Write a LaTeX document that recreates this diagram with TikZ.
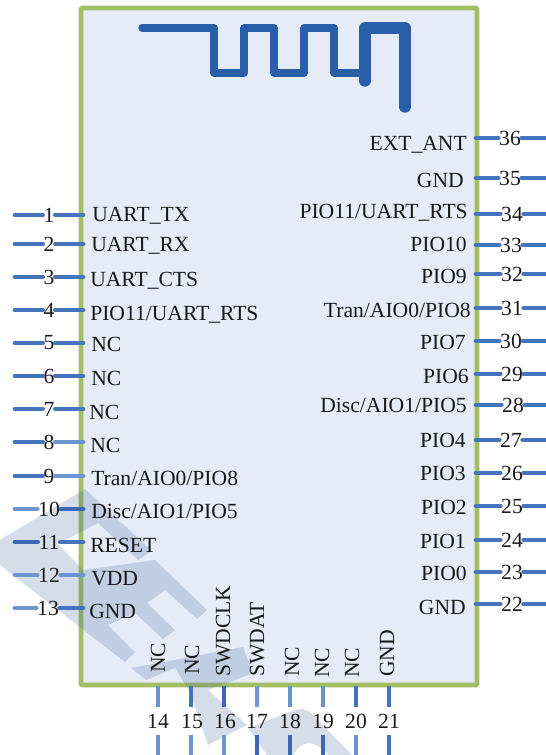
\documentclass[tikz,border=0pt]{standalone}
\usepackage{fontspec}
\setmainfont{Liberation Serif}
\definecolor{boardfill}{HTML}{E6ECF7}
\definecolor{boardedge}{HTML}{A2BE62}
\definecolor{antblue}{HTML}{285FA8}
\definecolor{pinblue}{HTML}{4674BC}
\definecolor{pinlight}{HTML}{6C95D0}
\definecolor{pindark}{HTML}{3A68B4}
\definecolor{wm}{HTML}{2F5590}
\tikzset{
  antenna/.style={draw=antblue,line cap=round,line join=round},
  pinline/.style={line width=3.6pt,line cap=round},
  pinnum/.style={inner sep=0.5pt,font=\fontsize{16.2pt}{17pt}\selectfont,text=black!90},
  pinlabel/.style={inner sep=0pt,font=\fontsize{16.2pt}{17pt}\selectfont,text=black!90},
  wmark/.style={fill=wm,fill opacity=0.2,draw=none}
}
\newcommand{\lpin}[7]{% number, y of pin, x of number, label, x of label, y of label centre, outer colour
  \coordinate (a#1) at (15,#2);
  \coordinate (b#1) at (83,#2);
  \node[pinnum] (n#1) at (#3,#2) {#1};
  \draw[pinline,draw=#7] (a#1) -- (n#1.west |- a#1);
  \draw[pinline,draw=\innercol] (n#1.east |- a#1) -- (b#1);
  \node[pinlabel,anchor=base west] (l#1) at (#5,#6+7) {#4};
}
\newcommand{\innercol}{pinblue}
\newcommand{\rpin}[6]{%
  \coordinate (a#1) at (476,#2);
  \coordinate (b#1) at (545,#2);
  \node[pinnum] (n#1) at (#3,#2) {#1};
  \draw[pinline,draw=pinblue] (a#1) -- (n#1.west |- a#1);
  \draw[pinline,draw=pinblue] (n#1.east |- a#1) -- (b#1);
  \node[pinlabel,anchor=base east] (l#1) at (#5,#6+7) {#4};
}
\newcommand{\bpin}[7]{% number, x of pin, x of number, label, x of label, y of label, lower colour
  \coordinate (a#1) at (#2,686);
  \coordinate (c#1) at (#2,707);
  \coordinate (d#1) at (#2,735);
  \coordinate (b#1) at (#2,755);
  \node[pinnum] (n#1) at (#3,721) {#1};
  \draw[pinline,line cap=butt,draw=\innercol] (a#1) -- (c#1);
  \draw[pinline,line cap=butt,draw=#7] (d#1) -- (b#1);
  \node[pinlabel,rotate=90,anchor=base west] (l#1) at (#5+7,#6) {#4};
}
\begin{document}
\begin{tikzpicture}[x=0.75pt,y=-0.75pt]
\useasboundingbox (0,0) rectangle (545,755);
\node[draw=boardedge,fill=boardfill,line width=3.6pt,rounded corners=1pt,outer sep=0pt,minimum width=396*0.75pt,minimum height=677*0.75pt,inner sep=0pt,anchor=north west] (board) at (81,8) {};
% watermark
\begin{scope}
\clip (0,0) rectangle (545,755);
\fill[wmark] (0,540) -- (85,489) -- (152,551) -- (138,560) -- (98,523) -- (58,544) -- (83,570) -- (155,560) -- (207,610) -- (197,619) -- (165,590) -- (147,603) -- (175,630) -- (163,639) -- (135,613) -- (108,625) -- (135,652) -- (125,662) -- (10,573) -- (0,565) -- cycle;
\fill[wmark] (131,668) -- (243,647) -- (253,673) -- (208,690) -- (247,725) -- (208,745) -- (190,692) -- (175,668) -- (146,680) -- cycle;
\fill[wmark] (248,728) -- (292,711) .. controls (300,708) and (306,708) .. (312,714) -- (352,755) -- (328,755) .. controls (318,742) and (305,740) .. (298,748) -- (293,755) -- (267,755) -- cycle;
\end{scope}
% antenna
\draw[antenna,line width=5.4pt] (142,28) -- (214,28) -- (214,73) -- (244,73) -- (244,28) -- (274,28) -- (274,73) -- (304,73) -- (304,28) -- (334,28) -- (334,73) -- (365,73);
\draw[antenna,line width=8.6pt] (365,81) -- (365,28) -- (405,28) -- (405,107);
% pins
\lpin{1}{215}{49}{UART\_TX}{92}{215}{pinblue}
\lpin{2}{244}{49}{UART\_RX}{91}{245}{pinblue}
\lpin{3}{277}{49}{UART\_CTS}{90}{279}{pinblue}
\lpin{4}{310}{49}{PIO11/UART\_RTS}{90}{313}{pinblue}
\lpin{5}{343}{49}{NC}{91}{344}{pinblue}
\lpin{6}{376}{49}{NC}{91}{378}{pinblue}
\lpin{7}{409}{49}{NC}{89}{412}{pinblue}
\renewcommand{\innercol}{pinlight}
\lpin{8}{442}{49}{NC}{90}{445}{pinblue}
\lpin{9}{476}{49}{Tran/AIO0/PIO8}{91}{478}{pinblue}
\renewcommand{\innercol}{pindark}
\lpin{10}{509}{49}{Disc/AIO1/PIO5}{91}{511}{pinlight}
\renewcommand{\innercol}{pinblue}
\lpin{11}{542}{49}{RESET}{90}{545}{pindark}
\renewcommand{\innercol}{pinlight}
\lpin{12}{575}{49}{VDD}{91}{578}{pinlight}
\renewcommand{\innercol}{pinblue}
\lpin{13}{608}{48}{GND}{89}{611}{pinlight}
\rpin{36}{138}{510}{EXT\_ANT}{467}{144}
\rpin{35}{178}{510}{GND}{464}{181}
\rpin{34}{214}{512}{PIO11/UART\_RTS}{468}{212}
\rpin{33}{245}{511}{PIO10}{467}{245}
\rpin{32}{274}{512}{PIO9}{467}{276}
\rpin{31}{308}{512}{Tran/AIO0/PIO8}{471}{310}
\rpin{30}{341}{511}{PIO7}{466}{342}
\rpin{29}{374}{512}{PIO6}{469}{376}
\rpin{28}{405}{513}{Disc/AIO1/PIO5}{467}{405}
\rpin{27}{440}{511}{PIO4}{466}{440}
\rpin{26}{473}{512}{PIO3}{466}{473}
\rpin{25}{506}{512}{PIO2}{467}{507}
\rpin{24}{540}{512}{PIO1}{466}{541}
\rpin{23}{572}{512}{PIO0}{467}{573}
\rpin{22}{604}{512}{GND}{466}{607}
\renewcommand{\innercol}{pinlight}
\bpin{14}{158}{158}{NC}{158}{673}{pinlight}
\renewcommand{\innercol}{pinblue}
\bpin{15}{191}{192}{NC}{192}{675}{pinlight}
\renewcommand{\innercol}{pindark}
\bpin{16}{224}{225}{SWDCLK}{223}{677}{pinlight}
\renewcommand{\innercol}{pinlight}
\bpin{17}{257}{257}{SWDAT}{257}{677}{pindark}
\bpin{18}{290}{290}{NC}{292}{677}{pindark}
\bpin{19}{323}{323}{NC}{322}{678}{pindark}
\renewcommand{\innercol}{pinblue}
\bpin{20}{356}{356}{NC}{352}{678}{pinlight}
\bpin{21}{389}{389}{GND}{387}{677}{pinblue}
\end{tikzpicture}
\end{document}
